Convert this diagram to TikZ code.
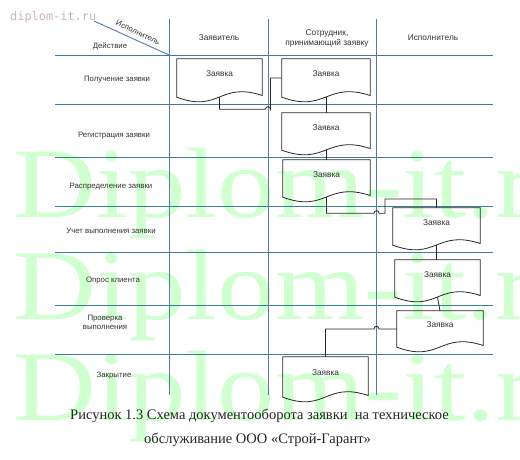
\documentclass[tikz,border=0pt]{standalone}
\usepackage{fontspec}
\setmainfont{Liberation Serif}
\setsansfont{Liberation Sans}
\newfontfamily\wmmono{DejaVu Sans Mono}
\usetikzlibrary{calc}
\definecolor{hline}{RGB}{60,125,150}
\definecolor{vline}{RGB}{90,120,170}
\definecolor{wmgreen}{RGB}{208,255,208}
\definecolor{wmpink}{RGB}{205,180,185}
\definecolor{docline}{RGB}{40,40,40}
\begin{document}
\begin{tikzpicture}[x=1pt,y=-1pt,
  hl/.style={hline, line width=0.9pt},
  vl/.style={vline, line width=0.9pt},
  lbl/.style={font=\sffamily\fontsize{7.8}{9}\selectfont, text=black!80, align=center, inner sep=0pt},
  hdr/.style={font=\sffamily\fontsize{8.3}{9.2}\selectfont, text=black!80, align=center, inner sep=0pt},
  docu/.style={inner sep=0pt, font=\sffamily\fontsize{8.3}{9}\selectfont, text=black!80, text depth=8pt},
  docbd/.style={docline, line width=0.8pt},
  conn/.style={docline, line width=0.8pt},
  wm/.style={font=\fontsize{100}{100}\selectfont, text=wmgreen, inner sep=0pt, xscale=1.15},
  capt/.style={font=\fontsize{14.5}{16}\selectfont, text=black!85, inner sep=0pt}]
\useasboundingbox (0,0) rectangle (520,460);
\fill[white] (0,0) rectangle (520,460);
% watermarks
\begin{scope}
\clip (0,0) rectangle (520,460);
\node[wm, anchor=base west] (wm1) at (13,217) {Diplom-it.ru};
\node[wm, anchor=base west] (wm2) at (13,319) {Diplom-it.ru};
\node[wm, anchor=base west] (wm3) at (13,420) {Diplom-it.ru};
\end{scope}
\node[font=\wmmono\fontsize{11.9}{12}\selectfont, text=wmpink, anchor=west, inner sep=0pt] (wms) at (10,17) {diplom-it.ru};
% grid
\foreach \y in {55,104,157,206,252.5,305,354} \draw[hl] (55,\y) -- (493,\y);
\foreach \x in {169,268,376} \draw[vl] (\x,19) -- (\x,395);
\draw[vl] (94,21) -- (169,55);
% header texts
\node[lbl, rotate=-25] (isp) at (138,32.5) {Исполнитель};
\node[lbl] (dey) at (110,46) {Действие};
\node[hdr] (h1) at (219,38) {Заявитель};
\node[hdr] (h2) at (327,38.5) {Сотрудник,\\принимающий заявку};
\node[hdr] (h3) at (433,38) {Исполнитель};
% row labels
\node[lbl] (r1) at (117,80) {Получение заявки};
\node[lbl] (r2) at (114,136) {Регистрация заявки};
\node[lbl] (r3) at (111,187) {Распределение заявки};
\node[lbl] (r4) at (111,231) {Учет выполнения заявки};
\node[lbl] (r5) at (113,281) {Опрос клиента};
\node[lbl] (r6) at (105,322) {Проверка\\выполнения};
\node[lbl] (r7) at (114,376) {Закрытие};
% documents
\node[docu, minimum width=85pt, minimum height=38pt] (d1) at (219.5,78) {Заявка};
\node[docu, minimum width=88pt, minimum height=38pt] (d2) at (326,78) {Заявка};
\node[docu, minimum width=88pt, minimum height=37pt] (d3) at (326,131.5) {Заявка};
\node[docu, minimum width=87pt, minimum height=37pt] (d4) at (326.5,178.5) {Заявка};
\node[docu, minimum width=87pt, minimum height=37pt] (d5) at (436.5,226.5) {Заявка};
\node[docu, minimum width=85pt, minimum height=37pt] (d6) at (437.5,278.5) {Заявка};
\node[docu, minimum width=86pt, minimum height=36pt] (d7) at (440,329) {Заявка};
\node[docu, minimum width=85pt, minimum height=40pt] (d8) at (325.5,377) {Заявка};
\foreach \n in {1,...,8}
  \draw[docbd] (d\n.north west) -- (d\n.north east) -- ($(d\n.south east)+(0,-1.7)$)
    .. controls ($(d\n.south)+(0,-16)$) and ($(d\n.south)+(0,16)$) .. (d\n.south west) -- cycle;
% connectors
\draw[conn] (d1.south) -- (219.5,109.3) -- (265.5,109.3) .. controls (265.5,105.8) and (270.5,105.8) .. (270.5,109.3) -- (270.5,78) -- (d2.west);
\draw[conn] (d2.south) -- (d3.north);
\draw[conn] (d3.south) -- (d3.south |- d4.north);
\draw[conn] (d4.south) -- (326.5,213.3) -- (374,213.3) .. controls (374,209.8) and (379,209.8) .. (379,213.3) -- (385,213.3) -- (385,199) -- (436.5,199) -- (d5.north);
\draw[conn] (d5.south) -- (d5.south |- d6.north);
\draw[conn] (d6.south) -- (d7.north);
\draw[conn] (d7.west) -- (379,329) .. controls (379,325.5) and (374,325.5) .. (374,329) -- (325.5,329) -- (d8.north);
% caption
\node[capt, anchor=west] (cap1) at (70,416) {Рисунок 1.3 Схема документооборота заявки\ \ на техническое};
\node[capt, anchor=west] (cap2) at (144,440) {обслуживание ООО «Строй-Гарант»};
\end{tikzpicture}
\end{document}
